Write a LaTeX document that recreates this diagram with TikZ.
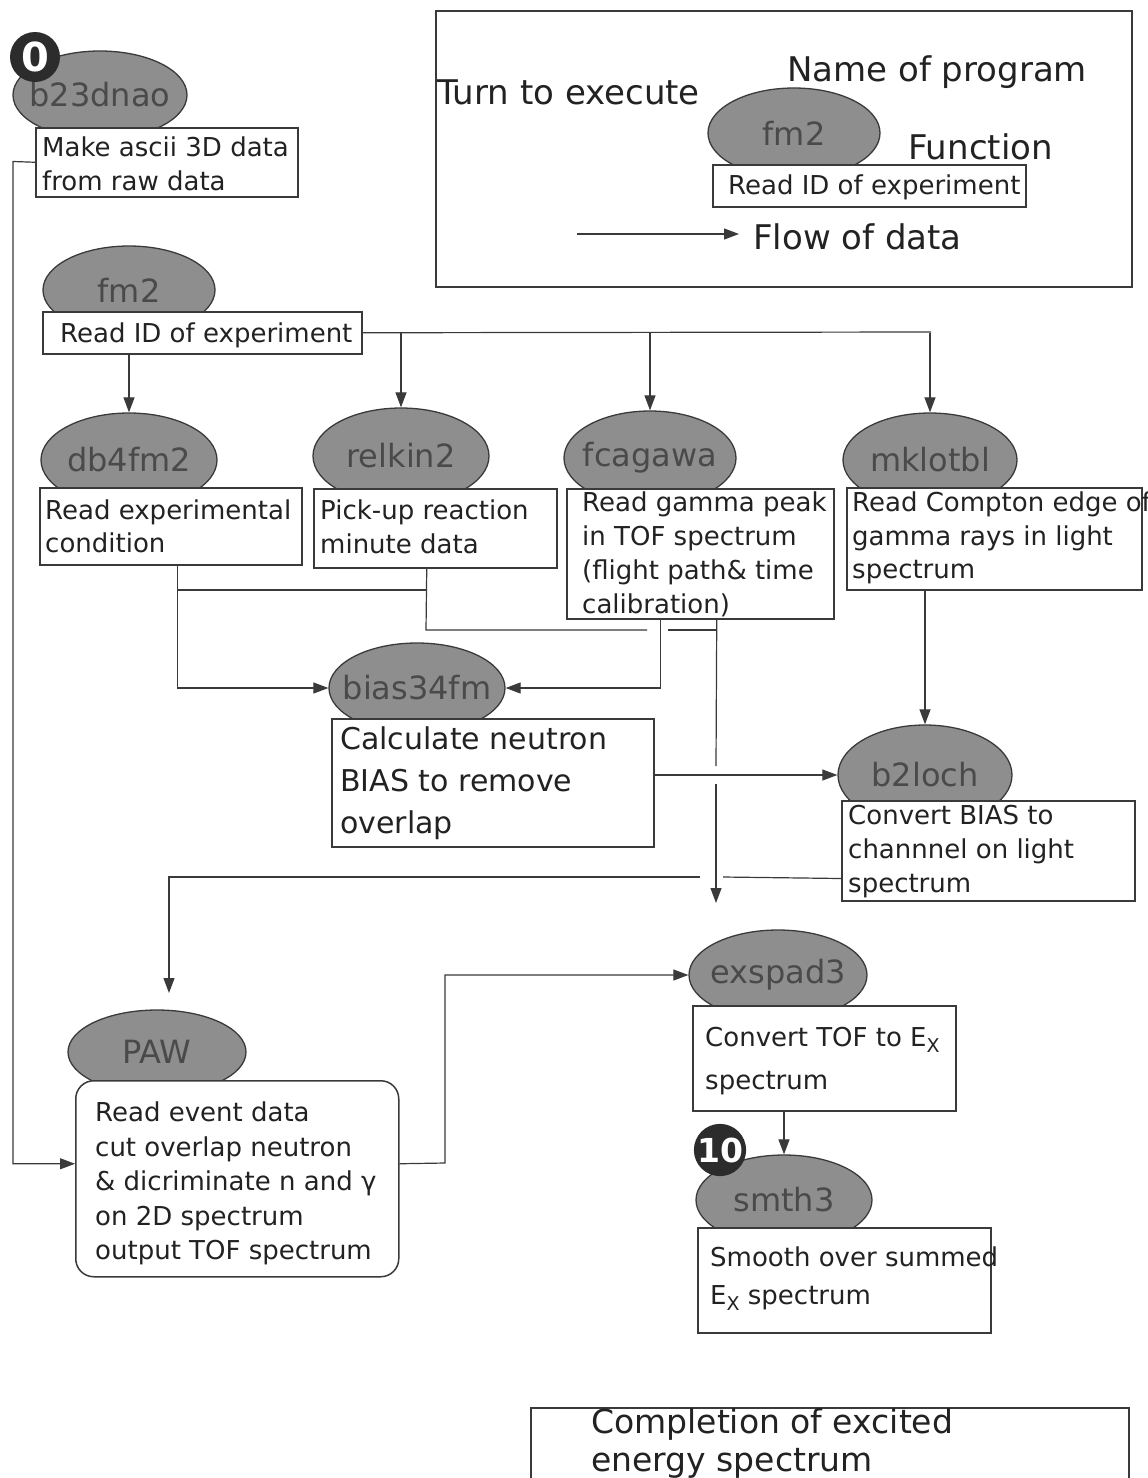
\documentclass[tikz,border=0pt]{standalone}
\usepackage{fontspec}
\setmainfont{DejaVu Sans}
\usetikzlibrary{shapes.geometric,arrows.meta}

\definecolor{inkc}{HTML}{3A3A3A}
\definecolor{progfill}{HTML}{8E8E8E}
\definecolor{progtext}{HTML}{4A4A4A}
\definecolor{badgefill}{HTML}{2C2C2C}
\definecolor{bodytext}{HTML}{222222}

\tikzset{
  prog/.style={ellipse, draw=inkc, line width=1.3pt, fill=progfill, inner sep=0pt,
    text=progtext, font=\fontsize{32}{36}\selectfont},
  fbox/.style={rectangle, draw=inkc, line width=1.5pt, fill=white, inner sep=0pt, anchor=north west},
  txt/.style={align=left, inner sep=0pt, anchor=north west, text=bodytext},
  lbl/.style={inner sep=0pt, anchor=base west, text=bodytext},
  flow/.style={draw=inkc, line width=1.2pt},
  arr/.style={flow, -{Triangle[length=15pt,width=11pt]}},
  badge/.style={circle, fill=badgefill, text=white, inner sep=0pt, minimum size=50pt},
}

% program name set in a zero-width box so the ellipse keeps its given size
\newcommand{\pname}[1]{\makebox[0pt]{#1}}
\newcommand{\subX}{\raisebox{-6pt}{\fontsize{19}{19}\selectfont X}}

\begin{document}
\begin{tikzpicture}[x=1pt,y=-1pt]
\clip (0,0) rectangle (1148,1478);
\fill[white] (0,0) rectangle (1148,1478);

% ---------------- legend ----------------
\node[fbox, line width=2pt, minimum width=696pt, minimum height=276pt] (legend) at (435,10) {};
\node[prog, minimum width=172pt, minimum height=90pt] (legE) at (794,133) {\pname{fm2}};
\node[fbox, minimum width=313pt, minimum height=42pt] (legB) at (712,164) {};
\node[lbl, font=\fontsize{26}{30}\selectfont] (legBt) at (728,194.5) {Read ID of experiment};
\node[lbl, font=\fontsize{34}{38}\selectfont] (legTurn) at (437,104) {Turn to execute};
\node[lbl, font=\fontsize{34}{38}\selectfont] (legName) at (787,81) {Name of program};
\node[lbl, font=\fontsize{34}{38}\selectfont] (legFunc) at (908,159) {Function};
\node[lbl, font=\fontsize{34}{38}\selectfont] (legFlow) at (753,249) {Flow of data};
\coordinate (legA) at (577,234);
\coordinate (legZ) at (739,234);
\draw[arr] (legA) -- (legZ);

% ---------------- program ellipses ----------------
\node[prog, minimum width=174pt, minimum height=88pt] (E0) at (100,95) {\pname{b23dnao}};
\node[prog, minimum width=172pt, minimum height=88pt] (E1) at (129,290) {\pname{fm2}};
\node[prog, minimum width=176pt, minimum height=94pt] (E2) at (129,460) {\pname{db4fm2}};
\node[prog, minimum width=176pt, minimum height=96pt] (E3) at (401,456) {\pname{relkin2}};
\node[prog, minimum width=172pt, minimum height=94pt] (E4) at (650,458) {\pname{fcagawa}};
\node[prog, minimum width=174pt, minimum height=94pt] (E5) at (930,460) {\pname{mklotbl}};
\node[prog, minimum width=176pt, minimum height=90pt] (E6) at (417,688) {\pname{bias34fm}};
\node[prog, minimum width=174pt, minimum height=100pt] (E7) at (925,775) {\pname{b2loch}};
\node[prog, minimum width=178pt, minimum height=84pt] (E8) at (157,1052) {\pname{PAW}};
\node[prog, minimum width=178pt, minimum height=90pt] (E9) at (778,975) {\pname{exspad3}};
\node[prog, minimum width=176pt, minimum height=90pt] (E10) at (784,1200) {\pname{smth3}};

% ---------------- function boxes ----------------
\node[fbox, minimum width=262pt, minimum height=69pt] (B0) at (35,127) {};
\node[fbox, minimum width=319pt, minimum height=42pt] (B1) at (42,311) {};
\node[fbox, minimum width=262pt, minimum height=77pt] (B2) at (39,487) {};
\node[fbox, minimum width=243pt, minimum height=79pt] (B3) at (313,488) {};
\node[fbox, minimum width=267pt, minimum height=130pt] (B4) at (566,488) {};
\node[fbox, minimum width=295pt, minimum height=102pt] (B5) at (846,487) {};
\node[fbox, minimum width=322pt, minimum height=128pt] (B6) at (331,718) {};
\node[fbox, minimum width=293pt, minimum height=100pt] (B7) at (841,800) {};
\node[fbox, rounded corners=18pt, minimum width=323pt, minimum height=196pt] (B8) at (75,1080) {};
\node[fbox, minimum width=263pt, minimum height=105pt] (B9) at (692,1005) {};
\node[fbox, minimum width=293pt, minimum height=105pt] (B10) at (697,1227) {};
\node[fbox, minimum width=598pt, minimum height=100pt] (B11) at (530,1407) {};

% ---------------- box texts ----------------
\node[txt, font=\fontsize{26}{34}\selectfont] (T0) at (42,137) {Make ascii 3D data\\from raw data};
\node[lbl, font=\fontsize{26}{30}\selectfont] (T1) at (60,342.5) {Read ID of experiment};
\node[txt, font=\fontsize{26}{33}\selectfont] (T2) at (45,500) {Read experimental\\condition};
\node[txt, font=\fontsize{26}{34}\selectfont] (T3) at (320,500) {Pick-up reaction\\minute data};
\node[txt, font=\fontsize{26}{33.7}\selectfont] (T4) at (582,492) {Read gamma peak\\in TOF spectrum\\(flight path\& time\\calibration)};
\node[txt, font=\fontsize{26}{33.5}\selectfont] (T5) at (852,492) {Read Compton edge of\\gamma rays in light\\spectrum};
\node[txt, font=\fontsize{30}{42}\selectfont] (T6) at (340,726) {Calculate neutron\\BIAS to remove\\overlap};
\node[txt, font=\fontsize{26}{34}\selectfont] (T7) at (848,805) {Convert BIAS to\\channnel on light\\spectrum};
\node[txt, font=\fontsize{26}{34.5}\selectfont] (T8) at (95,1102) {Read event data\\cut overlap neutron\\\& dicriminate n and γ\\on 2D spectrum\\output TOF spectrum};
\node[txt, font=\fontsize{26}{43}\selectfont] (T9) at (705,1027) {Convert TOF to E\subX\\spectrum};
\node[txt, font=\fontsize{26}{38}\selectfont] (T10) at (710,1247) {Smooth over summed\\E\subX\ spectrum};
\node[txt, font=\fontsize{33}{38}\selectfont] (T11) at (591,1408) {Completion of excited\\energy spectrum};

% ---------------- data flow ----------------
% fm2 fans out to the four readers
\coordinate (fanEnd) at (931,332);
\draw[flow] (B1.east) -- (fanEnd);
\draw[arr] (B1.south -| E2.north) -- (E2.north);
\draw[arr] (B1.east -| E3.north) -- (E3.north);
\draw[arr] (B1.east -| E4.north) -- (E4.north);
\draw[arr] (B1.east -| E5.north) -- (E5.north);

% db4fm2 and relkin2 feed bias34fm
\coordinate (dbOut) at ([xshift=7pt]B2.south);
\coordinate (rkOut) at ([xshift=-8.5pt]B3.south);
\coordinate (rkJoin) at (426,590);
\coordinate (rkLow) at (426,630);
\coordinate (rkGapA) at (647,630);
\coordinate (rkGapB) at (668,630);
\coordinate (fcRail) at (716,630);
\draw[arr] (dbOut) |- (E6.west);
\draw[flow] (dbOut |- rkJoin) -- (rkJoin);
\draw[flow] (rkOut) -- (rkLow) -- (rkGapA);
\draw[flow] (rkGapB) -- (fcRail);

% fcagawa feeds bias34fm and exspad3
\coordinate (fcOutA) at ([xshift=-39.5pt]B4.south);
\coordinate (fcOutB) at ([xshift=16.5pt]B4.south);
\coordinate (fcGapA) at (716,766);
\coordinate (fcGapB) at (716,784);
\coordinate (fcEnd) at (716,903);
\draw[arr] (fcOutA) |- (E6.east);
\draw[flow] (fcOutB) -- (fcGapA);
\draw[arr] (fcGapB) -- (fcEnd);

% mklotbl and bias34fm feed b2loch
\draw[arr] (B5.south -| E7.north) -- (E7.north);
\draw[arr] (B6.east |- E7.west) -- (E7.west);

% b2loch feeds PAW
\coordinate (b2Out) at ([yshift=23pt]B7.south west);
\coordinate (b2GapA) at (723,877);
\coordinate (b2GapB) at (700,877);
\coordinate (pawIn) at (169,993);
\draw[flow] (b2Out) -- (b2GapA);
\draw[arr] (b2GapB) -| (pawIn);

% b23dnao feeds PAW along the left rail
\coordinate (railTop) at (13,161.5);
\draw[arr] (B0.west) -- (railTop) |- ([yshift=15pt]B8.west);

% PAW feeds exspad3, exspad3 feeds smth3
\coordinate (pawElbow) at (445,1163);
\draw[arr] ([yshift=15pt]B8.east) -- (pawElbow) |- (E9.west);
\draw[arr] (B9.south -| E10.north) -- (E10.north);

% ---------------- turn badges ----------------
\node[badge, font=\bfseries\fontsize{40}{40}\selectfont] (K0) at (35,57) {0};
\node[badge, font=\bfseries\fontsize{33}{33}\selectfont] (K10) at (720,1150) {10};
\end{tikzpicture}
\end{document}
